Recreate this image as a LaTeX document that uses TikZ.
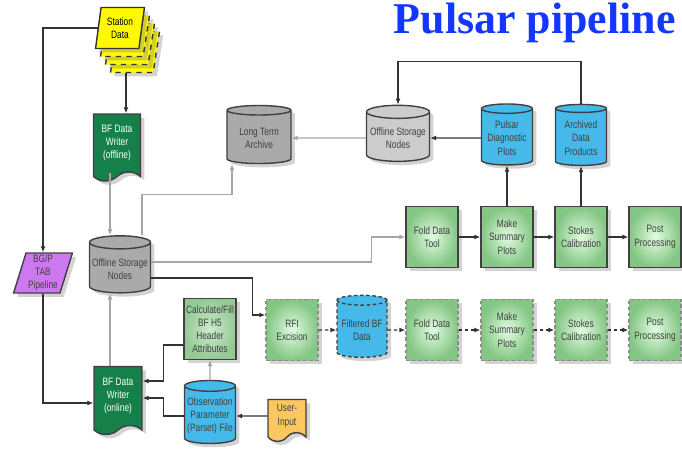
\documentclass[tikz,border=0pt]{standalone}
\usepackage{fontspec}
\newfontfamily\narrowsf[FakeStretch=0.78]{Liberation Sans}
\newfontfamily\titlefont{Liberation Serif}
\usepackage{tikz}
\usetikzlibrary{shapes.geometric, shapes.symbols, arrows.meta, shadows, calc}

\definecolor{stationyellow}{RGB}{255,250,0}
\definecolor{writergreen}{RGB}{22,128,74}
\definecolor{toolgreen}{RGB}{132,198,132}
\definecolor{toollight}{RGB}{225,252,225}
\definecolor{calcgreen}{RGB}{150,200,150}
\definecolor{diskblue}{RGB}{70,185,235}
\definecolor{disklight}{RGB}{150,225,252}
\definecolor{diskgray}{RGB}{170,170,170}
\definecolor{disksilver}{RGB}{235,235,235}
\definecolor{bgpviolet}{RGB}{205,120,240}
\definecolor{inputorange}{RGB}{250,200,95}
\definecolor{titleblue}{RGB}{20,55,255}

\begin{document}
\begin{tikzpicture}[
  x=0.02cm, y=-0.02cm,
  font=\narrowsf\fontsize{6.1}{7.5}\selectfont,
  box/.style={draw=black!75, thick, shading=radial, inner color=toollight, outer color=toolgreen, minimum width=1.04cm, minimum height=1.22cm, align=center, text=black!75, inner sep=1pt, drop shadow={opacity=0.35}},
  dashbox/.style={draw=black!45, dash pattern=on 2pt off 1.5pt},
  disk/.style={cylinder, shape border rotate=90, aspect=0.22, draw=black!75, thick, align=center, text=black!75, inner sep=1pt, drop shadow={opacity=0.35}},
  bluedisk/.style={disk, left color=diskblue, middle color=disklight, right color=diskblue},
  graydisk/.style={disk, left color=diskgray, middle color=disksilver, right color=diskgray},
  doc/.style={tape, tape bend top=none, tape bend bottom=in and out, tape bend height=0.18cm, draw=black!75, thick, align=center, inner sep=1pt, drop shadow={opacity=0.35}},
  slab/.style={trapezium, trapezium left angle=80, trapezium right angle=100, trapezium stretches=true, minimum width=0.98cm, minimum height=0.82cm, fill=stationyellow, draw=black!80, thick, align=center, inner sep=1pt, drop shadow={opacity=0.35}},
  arr/.style={semithick, black!80, -{Latex[length=1.2mm, width=1mm]}},
  garr/.style={arr, black!35},
  darr/.style={arr, dash pattern=on 2pt off 1.5pt},
]
\useasboundingbox (0,0) rectangle (682,471);

% Title
\node[font=\titlefont\bfseries\fontsize{25}{30}\selectfont, text=titleblue, anchor=base east, inner sep=0pt] (title) at (676,33) {Pulsar pipeline};

% Station data (stacked)
\node[slab, dashed] (st3) at (135,52) {};
\node[slab, dashed] (st2) at (130,44) {};
\node[slab, dashed] (st1) at (125,36) {};
\node[slab] (station) at (120,28) {Station\\Data};

% Writers and input
\node[doc, fill=writergreen, text=white, minimum width=0.94cm, minimum height=1.34cm] (writerOff) at (117,143) {BF Data\\Writer\\(offline)};
\node[doc, fill=writergreen, text=white, minimum width=0.96cm, minimum height=1.36cm] (writerOn) at (118,396) {BF Data\\Writer\\(online)};
\node[doc, fill=inputorange, text=black!75, minimum width=0.76cm, minimum height=0.84cm] (user) at (287,416) {User-\\Input};
\node[trapezium, trapezium left angle=73, trapezium right angle=107, trapezium stretches=true, minimum width=1.18cm, minimum height=0.8cm, fill=bgpviolet, draw=black!75, thick, align=center, inner sep=1pt, text=black!75, drop shadow={opacity=0.35}] (bgp) at (43,273) {BG/P\\TAB\\Pipeline};

% Storage
\node[graydisk, minimum width=1.22cm, minimum height=1.14cm] (osnL) at (120,269) {Offline Storage\\Nodes};
\node[graydisk, minimum width=1.28cm, minimum height=1.16cm] (lta) at (259,138) {Long Term\\Archive};
\node[graydisk, minimum width=1.26cm, minimum height=1.12cm, left color=diskgray!60, right color=diskgray!60] (osnT) at (398,138) {Offline Storage\\Nodes};
\node[bluedisk, minimum width=1.02cm, minimum height=1.22cm] (pdp) at (507,138) {Pulsar\\Diagnostic\\Plots};
\node[bluedisk, minimum width=1.02cm, minimum height=1.22cm] (adp) at (581,138) {Archived\\Data\\Products};
\node[bluedisk, minimum width=1.02cm, minimum height=1.26cm] (obs) at (210,416) {Observation\\Parameter\\(Parset) File};
\node[bluedisk, dashbox, draw=black!75, minimum width=1.0cm, minimum height=1.24cm] (filt) at (362,330) {Filtered BF\\Data};

% Processing boxes
\node[box, inner color=toollight!70!calcgreen, outer color=calcgreen] (calc) at (210,329) {Calculate/Fill\\BF H5\\Header\\Attributes};
\node[box, dashbox] (rfi) at (292,330) {RFI\\Excision};
\foreach \n/\x/\t in {fold/432/{Fold Data\\Tool}, msp/507/{Make\\Summary\\Plots}, stk/581/{Stokes\\Calibration}, post/655/{Post\\Processing}}{
  \node[box] (\n1) at (\x,237) {\t};
  \node[box, dashbox] (\n2) at (\x,330) {\t};
}

% Connectors
\draw[arr] ([xshift=0.18cm]writerOff.north |- st3.south) -- ([xshift=0.18cm]writerOff.north);
\draw[arr] (station.west) -| (bgp.north);
\draw[garr] ([xshift=-0.14cm]writerOff.south) -- ([xshift=-0.14cm]writerOff.south |- osnL.north);
\draw[garr] ([xshift=0.44cm]osnL.north) |- ([xshift=-0.54cm,yshift=-0.6cm]lta.south) -- ([xshift=-0.54cm]lta.south);
\draw[garr] (osnT.west) -- (lta.east);
\draw[arr] (pdp.west) -- (osnT.east);
\draw[arr] (adp.north) -- ++(0,-42) -| (osnT.north);
\draw[arr] (msp1.north) -- (pdp.south);
\draw[arr] (stk1.north) -- (adp.south);
\foreach \a/\b in {fold1/msp1, msp1/stk1, stk1/post1}{
  \draw[arr] (\a) -- (\b);
}
\foreach \a/\b in {rfi/filt, filt/fold2, fold2/msp2, msp2/stk2, stk2/post2}{
  \draw[darr] (\a) -- (\b);
}
\draw[garr] ([yshift=0.14cm]osnL.east) -| ([xshift=-0.68cm]fold1.west) -- (fold1.west);
\draw[arr] ([yshift=-0.18cm]osnL.east) -| ([xshift=-0.26cm,yshift=0.3cm]rfi.west) -- ([yshift=0.3cm]rfi.west);
\draw[arr] (bgp.south) |- ([yshift=-0.14cm]writerOn.west);
\draw[garr] ([xshift=-0.16cm]writerOn.north) -- ([xshift=-0.16cm]writerOn.north |- osnL.south);
\draw[arr] ([yshift=-0.32cm]calc.west) -| ([xshift=0.42cm,yshift=0.3cm]writerOn.east) -- ([yshift=0.3cm]writerOn.east);
\draw[arr] (obs.west) -| ([xshift=0.42cm,yshift=-0.04cm]writerOn.east) -- ([yshift=-0.04cm]writerOn.east);
\draw[garr] (obs.north) -- (calc.south);
\draw[arr] (user.west) -- (obs.east);
\end{tikzpicture}
\end{document}
